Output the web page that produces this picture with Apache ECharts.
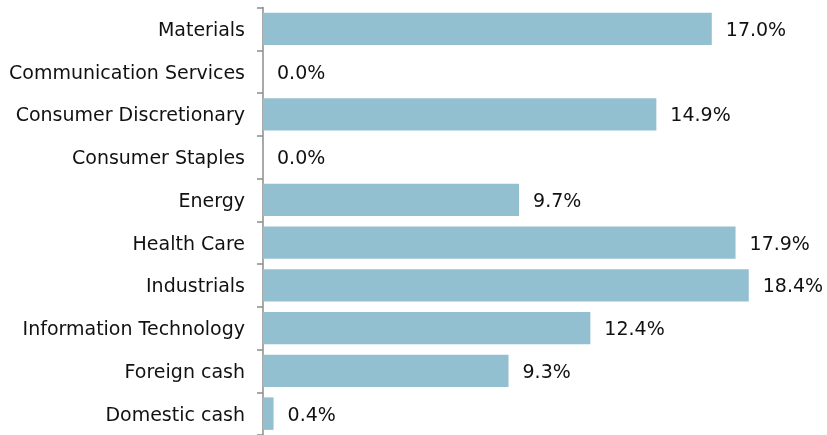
<!DOCTYPE html>
<html>
<head>
<meta charset="utf-8">
<script src="https://cdn.jsdelivr.net/npm/echarts@6/dist/echarts.min.js"></script>
<style>
  html, body { margin: 0; padding: 0; background: #fff; }
  #chart { width: 827px; height: 435px; }
</style>
</head>
<body>
<div id="chart"></div>
<script>
var categories = ['Materials', 'Communication Services', 'Consumer Discretionary', 'Consumer Staples',
  'Energy', 'Health Care', 'Industrials', 'Information Technology', 'Foreign cash', 'Domestic cash'];
var weights = [17.0, 0.0, 14.9, 0.0, 9.7, 17.9, 18.4, 12.4, 9.3, 0.4];

var myChart = echarts.init(document.getElementById('chart'));
var option = {
  animation: false,
  grid: {
    top: 7.5,
    bottom: -6,
    left: 263,
    right: 36,
    containLabel: false
  },
  xAxis: {
    type: 'value',
    min: 0,
    max: 20,
    show: false
  },
  yAxis: {
    type: 'category',
    inverse: true,
    data: categories,
    axisLine: {
      lineStyle: { color: '#8c8c8c', width: 1.5 }
    },
    axisTick: {
      show: true,
      length: 6,
      lineStyle: { color: '#8c8c8c', width: 1.5 }
    },
    axisLabel: {
      margin: 18,
      formatter: function (v) { return '{a|' + v + '}'; },
      rich: {
        a: {
          color: '#111',
          fontFamily: 'DejaVu Sans',
          fontSize: 19,
          padding: [4, 0, 0, 0]
        }
      }
    }
  },
  series: [
    {
      type: 'bar',
      data: weights,
      barWidth: '76%',
      itemStyle: { color: '#93c0d1' },
      label: {
        show: true,
        position: 'right',
        distance: 14,
        offset: [0, 2],
        color: '#111',
        fontFamily: 'DejaVu Sans',
        fontSize: 19,
        formatter: function (p) { return p.value.toFixed(1) + '%'; }
      }
    }
  ]
};
myChart.setOption(option);
</script>
</body>
</html>
